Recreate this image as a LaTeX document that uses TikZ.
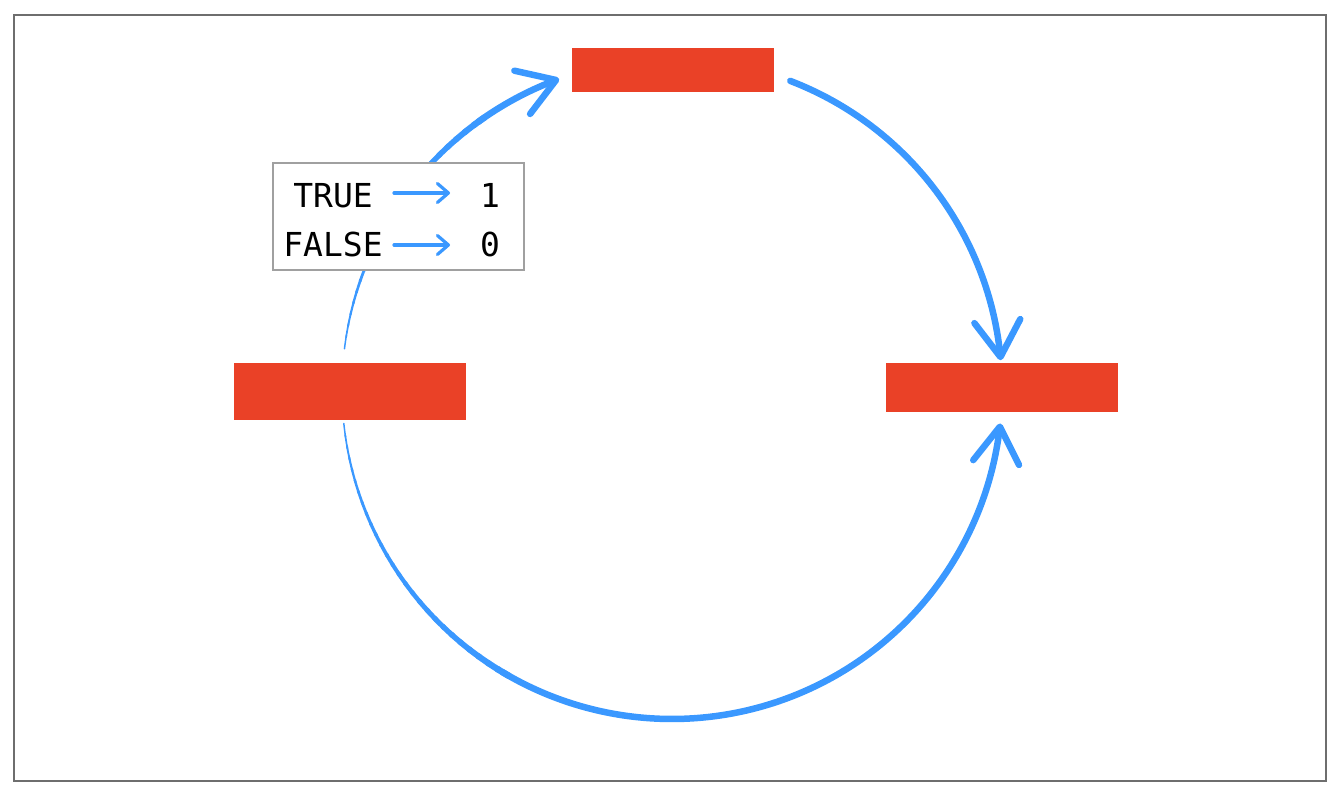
\documentclass[tikz,border=0pt]{standalone}
\usepackage{fontspec}
\usetikzlibrary{arrows.meta,bending}
\newfontfamily\legfont{DejaVu Sans Mono}
\definecolor{flowblue}{RGB}{58,152,255}
\definecolor{boxred}{RGB}{234,65,39}
\definecolor{framegray}{RGB}{110,110,110}
\definecolor{keygray}{RGB}{160,160,160}
\begin{document}
\begin{tikzpicture}[x=1pt,y=1pt,
  redbox/.style={fill=boxred,draw=none,inner sep=0pt},
  flow/.style={draw=flowblue,line cap=round},
  bigtip/.style={-{Straight Barb[length=36pt,width=46pt,line width=6.5pt,round]}},
  smalltip/.style={-{Straight Barb[length=11pt,width=19pt,line width=3.2pt,round]}},
  keytext/.style={font=\legfont\fontsize{33}{40}\selectfont,inner sep=0pt,anchor=base}
]
\useasboundingbox (0,0) rectangle (1340,794);
\draw[framegray,line width=1.4pt] (14,13) rectangle (1326,779);

% the three red blocks
\node[redbox,minimum width=202,minimum height=44] (top) at (673,724) {};
\node[redbox,minimum width=232,minimum height=57] (left) at (350,402.5) {};
\node[redbox,minimum width=232,minimum height=49] (right) at (1002,406.5) {};

\coordinate (ctr) at (672,405);

% left block -> top block (tapering stroke)
\foreach \k in {0,...,23}{
  \pgfmathsetmacro\a{173-\k*2}
  \pgfmathsetmacro\b{\a-2.4}
  \pgfmathsetmacro\w{1.5+\k*0.21}
  \draw[flow,line width=\w pt] (ctr) ++(\a:330) arc[start angle=\a,end angle=\b,radius=330];
}
\draw[flow,line width=6.5pt,bigtip] (ctr) ++(126:330) arc[start angle=126,end angle=110,radius=330];

% top block -> right block
\draw[flow,line width=6.5pt,bigtip] (ctr) ++(69:330) arc[start angle=69,end angle=5,radius=330];

% left block -> right block along the bottom
\foreach \k in {0,...,26}{
  \pgfmathsetmacro\a{186+\k*2}
  \pgfmathsetmacro\b{\a+2.4}
  \pgfmathsetmacro\w{1.5+\k*0.19}
  \draw[flow,line width=\w pt] (ctr) ++(\a:330) arc[start angle=\a,end angle=\b,radius=330];
}
\draw[flow,line width=6.5pt,bigtip] (ctr) ++(239:330) arc[start angle=239,end angle=354,radius=330];

% key box
\node[draw=keygray,line width=2pt,fill=white,minimum width=251,minimum height=107,inner sep=0pt] (key) at (398.5,577.5) {};
\node[keytext] (ktrue) at (333,586) {TRUE};
\node[keytext] (kfalse) at (333,537) {FALSE};
\node[keytext] (kone) at (490,586) {1};
\node[keytext] (kzero) at (490,537) {0};
\coordinate (ta) at (394,601);
\coordinate (tb) at (450,601);
\coordinate (fa) at (394,549);
\coordinate (fb) at (450,549);
\draw[flow,line width=3.2pt,smalltip] (ta) -- (tb);
\draw[flow,line width=3.2pt,smalltip] (fa) -- (fb);
\end{tikzpicture}
\end{document}
